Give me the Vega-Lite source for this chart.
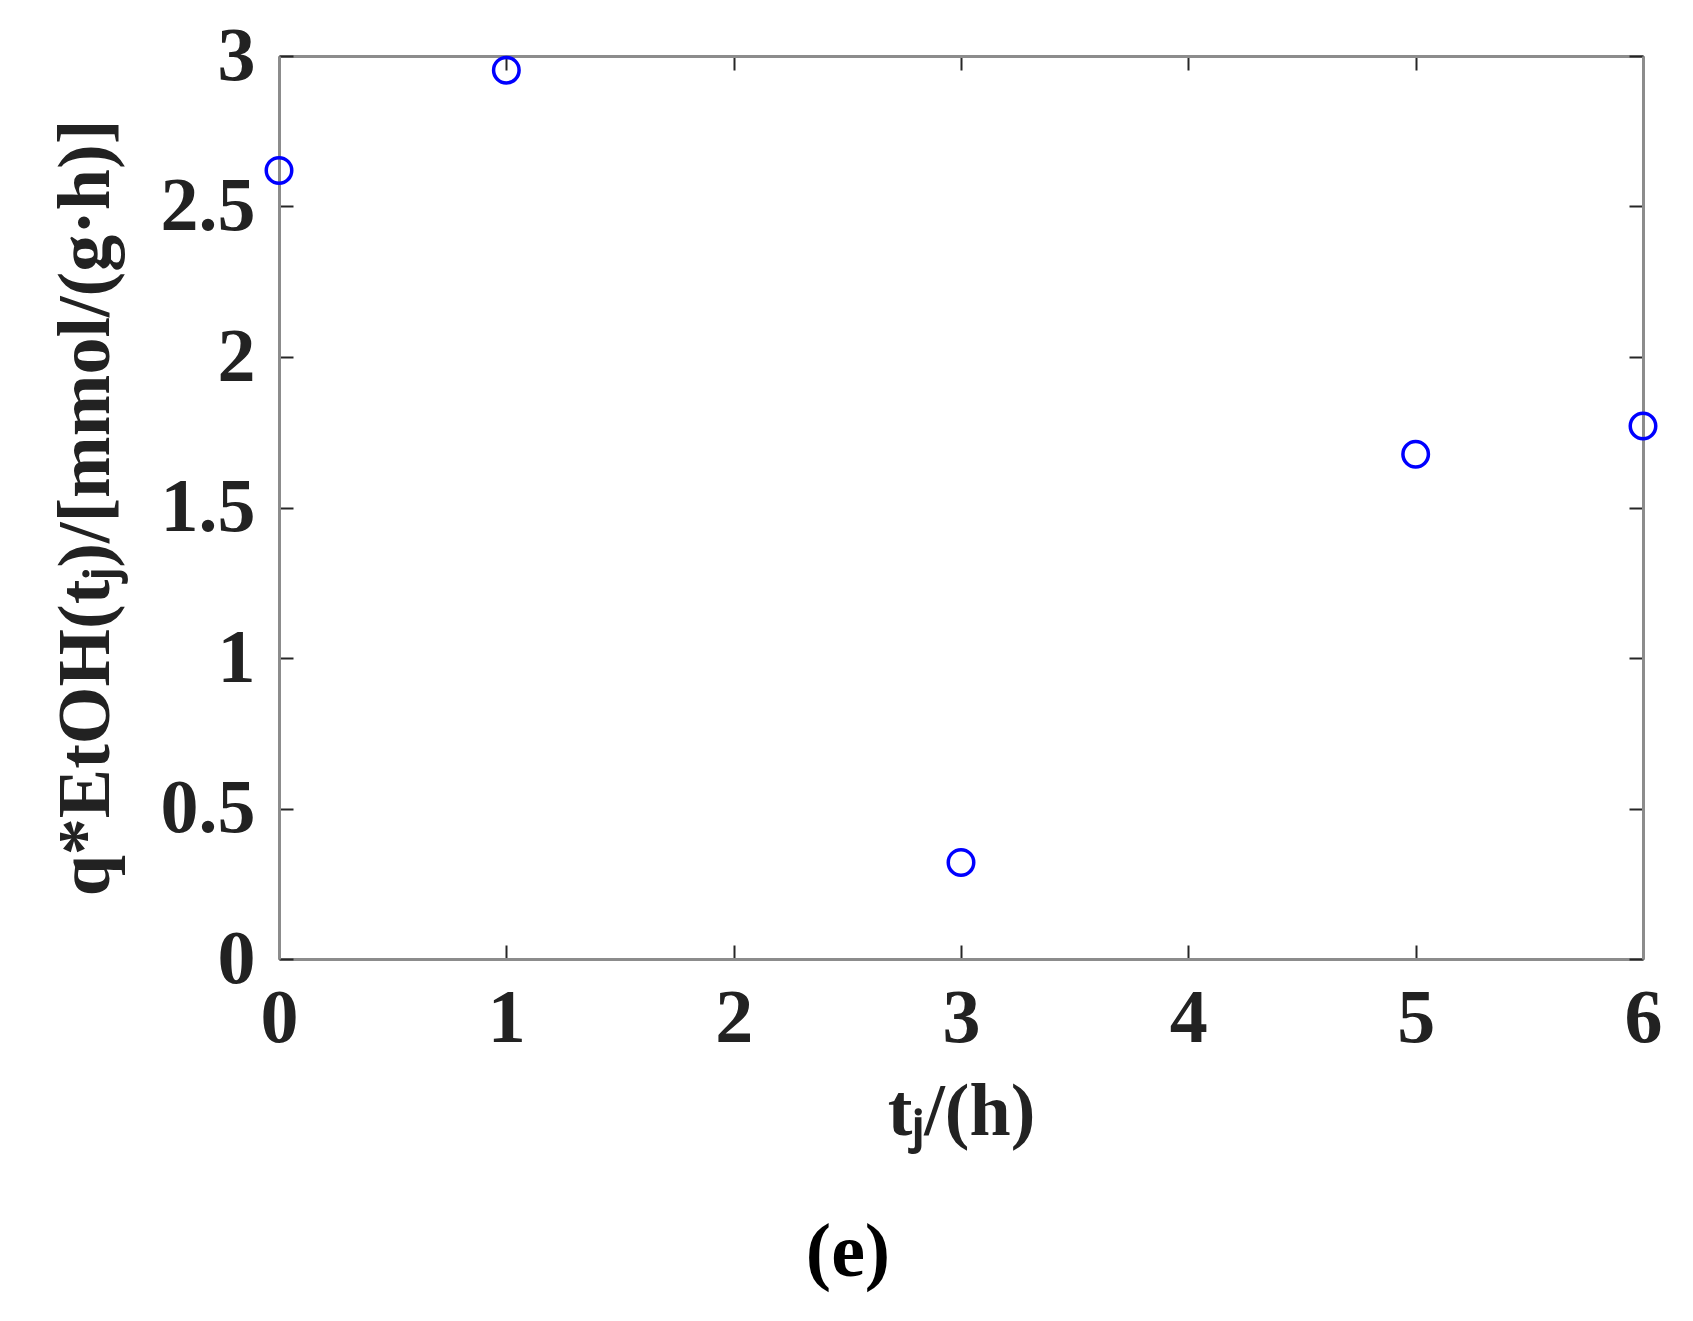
{
  "$schema": "https://vega.github.io/schema/vega-lite/v6.json",
  "autosize": "none",
  "padding": {"left": 279, "top": 56, "right": 50, "bottom": 362},
  "width": 1364,
  "height": 903,
  "background": "white",
  "title": {"text": "(e)", "orient": "bottom", "anchor": "middle", "dx": -113, "offset": 67, "font": "Liberation Serif", "fontSize": 76, "fontWeight": "bold", "color": "#000000"},
  "config": {
    "view": {"stroke": null},
    "axis": {
      "grid": false,
      "domainColor": "#8c8c8c",
      "domainWidth": 3,
      "tickColor": "#262626",
      "tickWidth": 2,
      "tickSize": -14,
      "labelFont": "Liberation Serif",
      "labelFontSize": 76,
      "labelFontWeight": "bold",
      "labelColor": "#222222",
      "titleFont": "Liberation Serif",
      "titleFontSize": 74,
      "titleFontWeight": "bold",
      "titleColor": "#222222",
      "labelOverlap": false,
      "labelFlush": false
    }
  },
  "data": {"values": [
    {"t": 0, "q": 2.62},
    {"t": 1, "q": 2.953},
    {"t": 3, "q": 0.321},
    {"t": 5, "q": 1.677},
    {"t": 6, "q": 1.771}
  ]},
  "layer": [
    {
      "mark": {"type": "point", "shape": "circle", "filled": false, "color": "#0000ff", "strokeWidth": 3.5, "size": 650, "opacity": 1},
      "encoding": {
        "x": {"field": "t", "type": "quantitative", "scale": {"domain": [0, 6], "nice": false, "zero": false},
          "axis": {"values": [0, 1, 2, 3, 4, 5, 6], "format": "d", "labelPadding": 36, "title": "tⱼ/(h)", "titlePadding": 20}},
        "y": {"field": "q", "type": "quantitative", "scale": {"domain": [0, 3], "nice": false, "zero": false},
          "axis": {"values": [0, 0.5, 1, 1.5, 2, 2.5, 3], "labelExpr": "'' + datum.value", "labelPadding": 38, "title": "q*EtOH(tⱼ)/[mmol/(g·h)]", "titlePadding": 36}}
      }
    },
    {
      "mark": {"type": "point", "opacity": 0},
      "encoding": {
        "x": {"field": "t", "type": "quantitative", "axis": {"orient": "top", "values": [0, 1, 2, 3, 4, 5, 6], "labels": false, "title": null}},
        "y": {"field": "q", "type": "quantitative", "axis": {"orient": "right", "values": [0, 0.5, 1, 1.5, 2, 2.5, 3], "labels": false, "title": null}}
      }
    }
  ],
  "resolve": {"axis": {"x": "independent", "y": "independent"}}
}
